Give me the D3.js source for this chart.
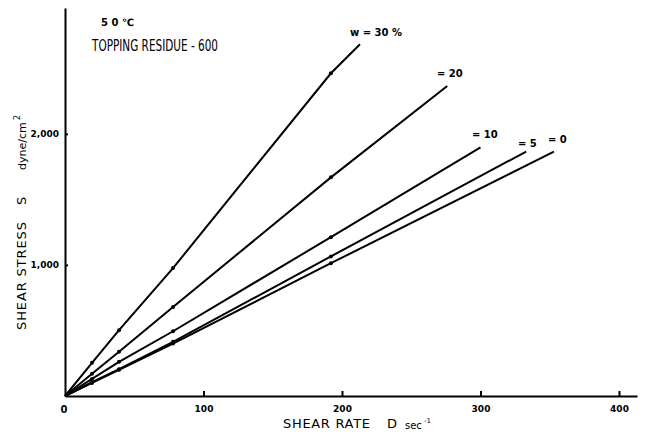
<!DOCTYPE html>
<html lang="en">
<head>
<meta charset="UTF-8">
<title>Shear stress vs shear rate - Topping residue 600</title>
<script src="https://d3js.org/d3.v7.min.js"></script>
<style>
  body, html { margin: 0; background: #fff; }
  svg { display: block; }
  .axis path, .axis line { stroke: #000; stroke-width: 2px; }
  .axis text { font-family: "DejaVu Sans", sans-serif; font-weight: bold; font-size: 9px; fill: #000; }
  .title { font-family: "DejaVu Sans", sans-serif; fill: #000; }
  .series { fill: none; stroke: #000; stroke-width: 2px; }
  .lbl { font-family: "DejaVu Sans", sans-serif; font-weight: bold; font-size: 10px; fill: #000; }
</style>
</head>
<body>
<script>
// water content of each curve (%)
const waterPct = [30, 20, 10, 5, 0];
const lineLabels = ["w = 30 %", "= 20", "= 10", "= 5", "= 0"];
// measured shear rates D (sec-1)
const shearRate = [19.5, 39, 78, 192];
// measured shear stress S (dyne/cm2) per curve
const stress30 = [253, 502, 976, 2462];
const stress20 = [170, 337, 679, 1668];
const stress10 = [130, 261, 494, 1212];
const stress5 = [105, 205, 413, 1065];
const stress0 = [100, 200, 400, 1013];
// where each drawn line ends
const endRate = [213, 276, 300, 333, 353];
const endStress = [2684, 2365, 1896, 1865, 1865];
const xTicks = [100, 200, 300, 400];
const yTicks = [1000, 2000];

const W = 646, H = 434;
const svg = d3.select("body").append("svg").attr("width", W).attr("height", H);

const x = d3.scaleLinear().domain([0, 413]).range([65, 637]);
const y = d3.scaleLinear().domain([0, 2960]).range([396, 8]);

// axes
const xAxis = svg.append("g").attr("class", "axis")
    .attr("transform", `translate(0,${y(0)})`)
    .call(d3.axisBottom(x).tickValues(xTicks).tickSize(-5).tickPadding(10).tickSizeOuter(0));
xAxis.selectAll("text").attr("dy", "0.9em").attr("y", 8);

const yAxis = svg.append("g").attr("class", "axis")
    .attr("transform", `translate(${x(0)},0)`)
    .call(d3.axisLeft(y).tickValues(yTicks).tickSize(5).tickPadding(1)
        .tickFormat(d3.format(",")).tickSizeOuter(0));
yAxis.selectAll(".tick line").attr("x2", 3);

svg.append("text").attr("class", "lbl").attr("font-size", 9)
    .attr("x", x(0) - 1).attr("y", y(0) + 17).attr("text-anchor", "middle").text("0");

// axis titles
svg.append("text").attr("class", "title").attr("font-size", 13)
    .attr("x", 283).attr("y", 428).attr("textLength", 87).text("SHEAR RATE");
svg.append("text").attr("class", "title").attr("font-size", 13)
    .attr("x", 387).attr("y", 428).text("D");
svg.append("text").attr("class", "title").attr("font-size", 10)
    .attr("x", 405).attr("y", 429).text("sec");
svg.append("text").attr("class", "title").attr("font-size", 7)
    .attr("x", 424).attr("y", 423).text("-1");

const yt = svg.append("g").attr("transform", "translate(26,0) rotate(-90)");
yt.append("text").attr("class", "title").attr("font-size", 13)
    .attr("x", -330).attr("y", 0).attr("textLength", 108).text("SHEAR STRESS");
yt.append("text").attr("class", "title").attr("font-size", 13)
    .attr("x", -205).attr("y", 0).text("S");
yt.append("text").attr("class", "title").attr("font-size", 11)
    .attr("x", -170).attr("y", 0).text("dyne/cm");
yt.append("text").attr("class", "title").attr("font-size", 8)
    .attr("x", -120).attr("y", -6).text("2");

// heading
svg.append("text").attr("class", "lbl").attr("font-size", 9)
    .attr("x", 101).attr("y", 26).text("5 0 \u2103");
svg.append("text").attr("class", "title").attr("font-size", 15)
    .attr("x", 92).attr("y", 51).attr("textLength", 126)
    .attr("lengthAdjust", "spacingAndGlyphs").text("TOPPING RESIDUE - 600");

// curves
const stressSets = [stress30, stress20, stress10, stress5, stress0];
const line = d3.line().x(d => x(d[0])).y(d => y(d[1]));
const labelPos = [[350, 36], [437, 77], [472, 138], [518, 147], [548, 143]];

waterPct.forEach((w, i) => {
  const pts = [[0, 0]].concat(shearRate.map((r, j) => [r, stressSets[i][j]]), [[endRate[i], endStress[i]]]);
  svg.append("path").attr("class", "series").attr("d", line(pts));
  svg.append("g").selectAll("circle")
      .data(shearRate.map((r, j) => [r, stressSets[i][j]]))
      .join("circle")
      .attr("cx", d => x(d[0])).attr("cy", d => y(d[1])).attr("r", 2).attr("fill", "#000");
  svg.append("text").attr("class", "lbl")
      .attr("x", labelPos[i][0]).attr("y", labelPos[i][1]).text(lineLabels[i]);
});
</script>
</body>
</html>
